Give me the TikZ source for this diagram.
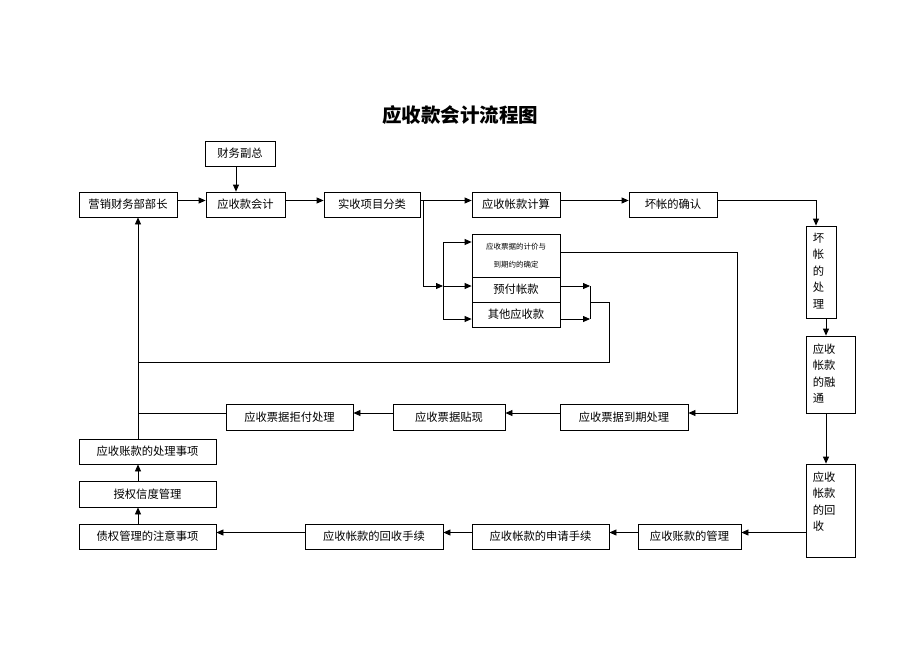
\documentclass[tikz,border=0pt]{standalone}
\usepackage{fontspec}
\setmainfont{Noto Sans CJK SC}
\usetikzlibrary{arrows.meta}
\begin{document}
\begin{tikzpicture}[x=1pt,y=-1pt,
  box/.style={draw,line width=0.8pt,inner sep=0pt,minimum height=25pt,font=\fontsize{11.3}{13}\selectfont},
  vbox/.style={draw,line width=0.8pt,inner sep=0pt},
  vtxt/.style={anchor=north west,inner sep=0pt,align=left,font=\fontsize{11.3}{16.5}\selectfont},
  ln/.style={line width=0.8pt},
  arr/.style={ln,-{Triangle[length=7pt,width=6pt]}},
  titlefont/.style={font=\fontsize{19.5}{22}\selectfont\bfseries}]
\useasboundingbox (0,0) rectangle (920,651);
\node[titlefont] (t) at (460,115) {应收款会计流程图};

\node[box,minimum width=70] (fz) at (240,153.5) {财务副总};
\node[box,minimum width=98] (yx) at (128,204.5) {营销财务部部长};
\node[box,minimum width=79] (ysk) at (245.5,204.5) {应收款会计};
\node[box,minimum width=96] (sx) at (372,204.5) {实收项目分类};
\node[box,minimum width=88] (zk) at (516,204.5) {应收帐款计算};
\node[box,minimum width=88] (hq) at (673,204.5) {坏帐的确认};

\node[vbox,minimum width=30,minimum height=92] (hc) at (821,272) {};
\node[vtxt] (hct) at ([xshift=7,yshift=-7]hc.north west) {坏\\帐\\的\\处\\理};
\node[vbox,minimum width=49,minimum height=77] (rt) at (830.5,374.5) {};
\node[vtxt] (rtt) at ([xshift=7,yshift=-8]rt.north west) {应收\\帐款\\的融\\通};
\node[vbox,minimum width=49,minimum height=93] (hs) at (830.5,510.5) {};
\node[vtxt] (hst) at ([xshift=7,yshift=-8]hs.north west) {应收\\帐款\\的回\\收};

\node[box,minimum width=88,minimum height=43,align=center,font=\fontsize{7.5}{17.5}\selectfont] (pj) at (516,255.5) {应收票据的计价与\\到期约的确定};
\node[box,minimum width=88] (yf) at (516,289.5) {预付帐款};
\node[box,minimum width=88] (qt) at (516,314.5) {其他应收款};

\node[box,minimum width=128,minimum height=26] (dq) at (624,417) {应收票据到期处理};
\node[box,minimum width=112,minimum height=26] (tx) at (449,417) {应收票据贴现};
\node[box,minimum width=127,minimum height=26] (jf) at (289.5,417) {应收票据拒付处理};

\node[box,minimum width=137] (clsx) at (147.5,451.5) {应收账款的处理事项};
\node[box,minimum width=137,minimum height=26] (sq) at (147.5,494) {授权信度管理};
\node[box,minimum width=137] (zq) at (147.5,536.5) {债权管理的注意事项};
\node[box,minimum width=138] (hssx) at (374,536.5) {应收帐款的回收手续};
\node[box,minimum width=137] (sqsx) at (540.5,536.5) {应收帐款的申请手续};
\node[box,minimum width=103] (gl) at (689.5,536.5) {应收账款的管理};

% top row
\draw[arr] ([xshift=-4]fz.south) -- ([xshift=-4]fz.south |- ysk.north);
\draw[arr] ([yshift=4]yx.east) -- ([yshift=4]ysk.west);
\draw[arr] ([yshift=4]ysk.east) -- ([yshift=4]sx.west);
\draw[arr] ([yshift=4]sx.east) -- ([yshift=4]zk.west);
\draw[arr] ([yshift=4]zk.east) -- ([yshift=4]hq.west);
\coordinate (hx) at ([xshift=-5]hc.north);
\draw[arr] ([yshift=4]hq.east) -| (hx);
\draw[arr] ([xshift=5]hc.south) -- ([xshift=5]hc.south |- rt.north);
\draw[arr] ([xshift=5]hc.south |- rt.south) -- ([xshift=5]hc.south |- hs.north);

% bottom row
\coordinate (r5) at ([yshift=4]gl.east);
\draw[arr] (hs.west |- r5) -- (r5);
\draw[arr] ([yshift=4]gl.west) -- ([yshift=4]sqsx.east);
\draw[arr] ([yshift=4]sqsx.west) -- ([yshift=4]hssx.east);
\draw[arr] ([yshift=4]hssx.west) -- ([yshift=4]zq.east);

% left trunk
\coordinate (tr) at ([xshift=-9.5]clsx.north);
\draw[arr] (zq.north -| tr) -- (sq.south -| tr);
\draw[arr] (sq.north -| tr) -- (clsx.south -| tr);
\draw[arr] (tr) -- (yx.south -| tr);

% notes row
\draw[arr] ([yshift=4]dq.west) -- ([yshift=4]tx.east);
\draw[arr] ([yshift=4]tx.west) -- ([yshift=4]jf.east);
\draw[ln] ([yshift=4]jf.west) -- ([yshift=4]jf.west -| tr);
\coordinate (pr) at (737,252);
\draw[arr] (pj.east |- pr) -- (pr) |- ([yshift=4]dq.east);

% branch
\coordinate (b1) at (423,286);
\coordinate (b2) at (443,286);
\coordinate (pa) at (443,242);
\coordinate (qa) at (443,319);
\draw[ln] ([yshift=4]sx.east -| b1) -- (b1);
\draw[arr] (b1) -- (b2);
\draw[ln] (pa) -- (qa);
\draw[arr] (pa) -- (pa -| pj.west);
\draw[arr] (b2) -- (b2 -| yf.west);
\draw[arr] (qa) -- (qa -| qt.west);

% merge loop
\coordinate (m1) at (590,286);
\coordinate (m2) at (590,319);
\coordinate (m3) at (590,302);
\coordinate (lp) at (609,362);
\draw[arr] (m1 -| yf.east) -- (m1);
\draw[arr] (m2 -| qt.east) -- (m2);
\draw[ln] (m1) -- (m2);
\draw[ln] (m3) -| (lp) -- (lp -| tr);
\end{tikzpicture}
\end{document}
